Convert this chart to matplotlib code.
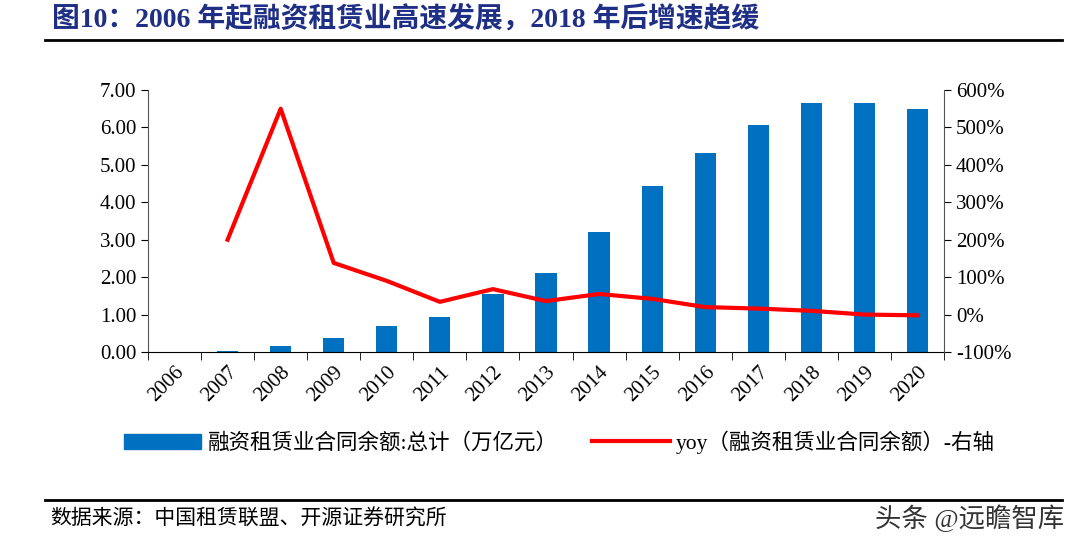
import numpy as np
import matplotlib.pyplot as plt
from matplotlib.lines import Line2D

plt.rcParams['font.family'] = ['Liberation Serif', 'Noto Sans CJK SC']

# data
years = [str(y) for y in range(2006, 2021)]
total = [0.005, 0.02, 0.16, 0.37, 0.70, 0.93, 1.55, 2.10, 3.20, 4.44, 5.33, 6.06, 6.65, 6.65, 6.50]
yoy = [np.nan, 200, 550, 138, 90, 34, 68, 36, 55, 42, 20, 16, 10, 0, -2]

bar_color = '#0070C0'
line_color = '#FF0000'

fig = plt.figure(figsize=(10.8, 5.46), dpi=100)
ax = fig.add_axes([148 / 1080, 1 - 352 / 546, (944 - 148) / 1080, (352 - 90) / 546])

x = np.arange(len(years))
ax.bar(x, total, width=0.4, color=bar_color)
ax.set_xlim(-0.5, len(years) - 0.5)
ax.set_ylim(0, 7)
ax.set_yticks(np.arange(0, 7.01, 1))
ax.set_yticklabels([f'{v:.2f}' for v in np.arange(0, 7.01, 1)], fontsize=15)
ax.set_xticks(x)
ax.set_xticklabels(years, rotation=45, fontsize=15, ha='right', rotation_mode='anchor')
ax.set_xticks(np.arange(-0.5, len(years), 1), minor=True)
ax.tick_params(axis='x', which='major', length=0, pad=8)
ax.tick_params(axis='x', which='minor', length=6, direction='out', color='black')
ax.tick_params(axis='y', length=5, direction='out')
for s in ['top', 'right']:
    ax.spines[s].set_visible(False)
ax.spines['left'].set_color('#555555')
ax.spines['bottom'].set_color('black')

ax2 = ax.twinx()
ax2.plot(x, yoy, color=line_color, lw=3)
ax2.set_ylim(-100, 600)
ax2.set_yticks(np.arange(-100, 601, 100))
ax2.set_yticklabels([f'{v}%' for v in range(-100, 601, 100)], fontsize=15)
ax2.tick_params(axis='y', length=5, direction='out')
for s in ['top', 'left', 'bottom']:
    ax2.spines[s].set_visible(False)
ax2.spines['right'].set_color('#555555')

handles = [plt.Rectangle((0, 0), 1, 1, color=bar_color),
           Line2D([0], [0], color=line_color, lw=3)]
labels = ['融资租赁业合同余额:总计（万亿元）', 'yoy（融资租赁业合同余额）-右轴']
fig.legend(handles, labels, loc='center', bbox_to_anchor=(0.518, 1 - 442 / 546),
           ncol=2, frameon=False, fontsize=15.5, handlelength=3.6, columnspacing=1.6,
           handletextpad=0.3)

fig.text(52 / 1080, 1 - 19 / 546, '图10：2006 年起融资租赁业高速发展，2018 年后增速趋缓',
         fontsize=20, fontweight='bold', color='#1F2F86', va='center')
fig.add_artist(Line2D([45 / 1080, 1062 / 1080], [1 - 40 / 546] * 2, color='black', lw=2))
fig.add_artist(Line2D([45 / 1080, 1062 / 1080], [1 - 500 / 546] * 2, color='black', lw=2))
fig.text(50 / 1080, 1 - 520 / 546, '数据来源：中国租赁联盟、开源证券研究所',
         fontsize=15, color='black', va='center')
fig.text(1064 / 1080, 1 - 518 / 546, '头条 @远瞻智库',
         fontsize=19, color='#333333', va='center', ha='right')

fig.savefig('out.png', dpi=100)
